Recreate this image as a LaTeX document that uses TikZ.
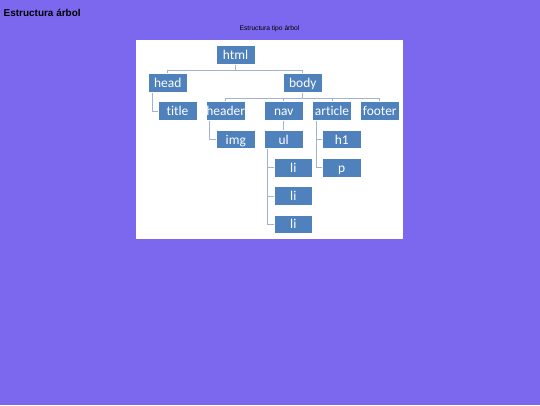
\documentclass[tikz,border=0pt]{standalone}
\usepackage{fontspec}
\setmainfont{Liberation Sans}
\newfontfamily\boxfont[Ligatures=NoCommon]{Carlito}
\usepackage{tikz}
\usetikzlibrary{calc}
\definecolor{bgcol}{RGB}{123,104,238}
\definecolor{boxcol}{RGB}{79,129,189}
\definecolor{conncol}{RGB}{160,180,206}

\begin{document}
\begin{tikzpicture}[x=1bp,y=-1bp,
		box/.style={draw=white,line width=0.6bp,fill=boxcol,text=white,inner sep=0pt,
			text height=9.4bp,text depth=0bp,
			minimum width=38.7bp,minimum height=18.5bp,font=\boxfont\fontsize{13.5}{16}\selectfont},
		conn/.style={draw=conncol,line width=1bp}]
		\fill[bgcol] (0,0) rectangle (540,405);
		\useasboundingbox (0,0) rectangle (540,405);
		%titles
		\node[anchor=west,inner sep=0pt,font=\bfseries\fontsize{10}{12}\selectfont] (titel) at (3.5,13) {Estructura árbol};
		\node[font=\fontsize{6.7}{8}\selectfont] (untertitel) at (269.5,29) {Estructura tipo árbol};
		%panel
		\fill[white] (136,40) rectangle (403,239);
		
		%level 0 and 1
		\node[box] (html) at (235.5,55) {html};
		\node[box] (head) at (167.7,83) {head};
		\node[box] (body) at (302.8,83) {body};
		%level 2
		\node[box] (title) at (177.5,111) {title};
		\node[box] (header) at (225.7,111) {header};
		\node[box] (nav) at (283.7,111) {nav};
		\node[box] (article) at (332,111) {article};
		\node[box] (footer) at (379.8,111) {footer};
		%level 3
		\node[box] (img) at (235.8,139.5) {img};
		\node[box] (ul) at (283.7,139.5) {ul};
		\node[box] (h1) at (341.7,139.5) {h1};
		\node[box] (p) at (341.7,167.7) {p};
		\foreach \i/\y in {1/167.7,2/196,3/224.2}{
			\node[box] (li\i) at (293.3,\y) {li};
		}
		
		%connections
		\foreach \k in {head,body}{
			\draw[conn] (html.south) -- ++(0,6) -| (\k.north);
		}
		\foreach \k in {header,nav,article,footer}{
			\draw[conn] (body.south) -- ++(0,6) -| (\k.north);
		}
		\draw[conn] (nav.south) -- (ul.north);
		\draw[conn] (head.south west) ++(4.5,0) |- (title.west);
		\draw[conn] (header.south west) ++(3.8,0) |- (img.west);
		\foreach \k in {h1,p}{
			\draw[conn] (article.south west) ++(4,0) |- (\k.west);
		}
		\foreach \i in {1,2,3}{
			\draw[conn] (ul.south west) ++(3.2,0) |- (li\i.west);
		}
		\end{tikzpicture}
\end{document}
